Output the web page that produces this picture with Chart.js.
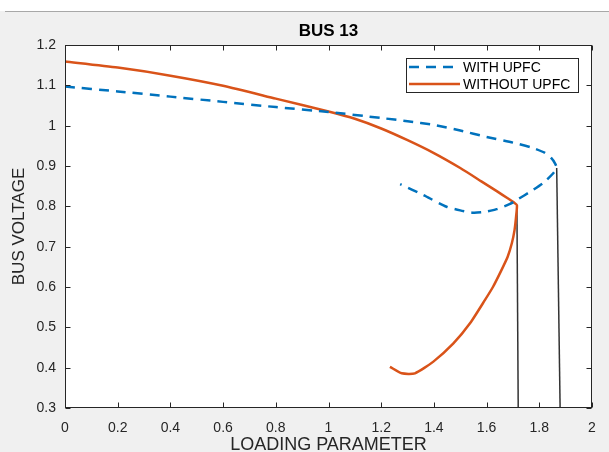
<!DOCTYPE html>
<html>
<head>
<meta charset="utf-8">
<script src="https://cdn.jsdelivr.net/npm/chart.js@4"></script>
<style>
  html, body { margin: 0; padding: 0; background: #f0f0f0; }
</style>
</head>
<body>
<canvas id="busChart" width="609" height="452"></canvas>
<script>
// ---- data ----
const xTicks = [0, 0.2, 0.4, 0.6, 0.8, 1, 1.2, 1.4, 1.6, 1.8, 2];
const xTickLabels = ['0', '0.2', '0.4', '0.6', '0.8', '1', '1.2', '1.4', '1.6', '1.8', '2'];
const yTicks = [0.3, 0.4, 0.5, 0.6, 0.7, 0.8, 0.9, 1, 1.1, 1.2];
const yTickLabels = ['0.3', '0.4', '0.5', '0.6', '0.7', '0.8', '0.9', '1', '1.1', '1.2'];

// WITH UPFC (upper branch out to the nose, then lower branch back)
const withUpfcX = [0, 0.2, 0.4, 0.6, 0.8, 1.0, 1.2, 1.3, 1.4, 1.5, 1.6, 1.7, 1.77, 1.82, 1.845, 1.86, 1.866,
  1.853, 1.815, 1.765, 1.72, 1.689, 1.638, 1.59, 1.55, 1.5, 1.448, 1.36, 1.272];
const withUpfcY = [1.097, 1.085, 1.072, 1.059, 1.046, 1.034, 1.019, 1.011, 1.002, 0.988, 0.972, 0.958, 0.946, 0.933, 0.92, 0.906, 0.895,
  0.882, 0.858, 0.836, 0.818, 0.806, 0.793, 0.786, 0.784, 0.79, 0.799, 0.828, 0.855];

// WITHOUT UPFC
const withoutUpfcX = [0, 0.2, 0.4, 0.6, 0.8, 1.0, 1.1, 1.2, 1.3, 1.4, 1.5, 1.58, 1.64, 1.68, 1.705, 1.715,
  1.712, 1.706, 1.696, 1.68, 1.655, 1.624, 1.594, 1.537, 1.474, 1.398, 1.328, 1.278, 1.233];
const withoutUpfcY = [1.159, 1.144, 1.124, 1.099, 1.067, 1.035, 1.017, 0.993, 0.964, 0.932, 0.895, 0.862, 0.837, 0.82, 0.809, 0.803,
  0.775, 0.741, 0.709, 0.675, 0.64, 0.6, 0.568, 0.51, 0.46, 0.415, 0.386, 0.386, 0.402];

// thin black drop lines from each nose point
const dropWithoutX = [1.715, 1.72];
const dropWithoutY = [0.803, 0.3];
const dropWithX = [1.866, 1.879];
const dropWithY = [0.895, 0.3];

const FONT = "'Liberation Sans', Arial, sans-serif";
const BLUE = '#0072BD';
const ORANGE = '#D95319';

function pts(xs, ys) {
    return xs.map((v, i) => ({ x: v, y: ys[i] }));
}

// figure background, axes box with inside ticks, title and legend (matlab look)
const matlabLook = {
    id: 'matlabLook',
    beforeDraw(chart) {
        const { ctx, chartArea: a, width, height } = chart;
        ctx.save();
        ctx.fillStyle = '#f0f0f0';
        ctx.fillRect(0, 0, width, height);
        ctx.fillStyle = '#ffffff';
        ctx.fillRect(0, 0, width, 11);
        ctx.fillStyle = '#a8a8a8';
        ctx.fillRect(5, 11, width - 5, 1);
        ctx.fillStyle = '#ffffff';
        ctx.fillRect(a.left, a.top, a.right - a.left, a.bottom - a.top);
        ctx.restore();
    },
    afterDraw(chart) {
        const { ctx, chartArea: a, scales } = chart;
        const L = Math.round(a.left) + 0.5, R = Math.round(a.right) - 0.5;
        const T = Math.round(a.top) + 0.5, B = Math.round(a.bottom) - 0.5;
        ctx.save();
        ctx.strokeStyle = '#262626';
        ctx.lineWidth = 1;
        ctx.beginPath();
        scales.x.ticks.forEach(t => {
            const px = Math.round(scales.x.getPixelForValue(t.value)) + 0.5;
            ctx.moveTo(px, B); ctx.lineTo(px, B - 5);
            ctx.moveTo(px, T); ctx.lineTo(px, T + 5);
        });
        scales.y.ticks.forEach(t => {
            const py = Math.round(scales.y.getPixelForValue(t.value)) + 0.5;
            ctx.moveTo(L, py); ctx.lineTo(L + 5, py);
            ctx.moveTo(R, py); ctx.lineTo(R - 5, py);
        });
        ctx.stroke();
        ctx.strokeRect(L, T, R - L, B - T);

        // title
        ctx.fillStyle = '#000';
        ctx.font = 'bold 17px ' + FONT;
        ctx.textAlign = 'center';
        ctx.textBaseline = 'middle';
        ctx.fillText('BUS 13', (a.left + a.right) / 2, 31);

        // legend box
        ctx.fillStyle = '#fff';
        ctx.fillRect(406, 58, 173, 35);
        ctx.strokeStyle = '#262626';
        ctx.strokeRect(406.5, 58.5, 172, 34);
        const rows = [
            { text: 'WITH UPFC', color: BLUE, dash: [10, 7], y: 67 },
            { text: 'WITHOUT UPFC', color: ORANGE, dash: [], y: 84 }
        ];
        rows.forEach(r => {
            ctx.strokeStyle = r.color;
            ctx.lineWidth = 2.5;
            ctx.setLineDash(r.dash);
            ctx.beginPath();
            ctx.moveTo(409, r.y);
            ctx.lineTo(460, r.y);
            ctx.stroke();
            ctx.setLineDash([]);
            ctx.fillStyle = '#000';
            ctx.font = '14px ' + FONT;
            ctx.textAlign = 'left';
            ctx.fillText(r.text, 463, r.y + 1);
        });
        ctx.restore();
    }
};

new Chart(document.getElementById('busChart'), {
    type: 'scatter',
    data: {
        datasets: [
            {
                label: 'WITH UPFC',
                data: pts(withUpfcX, withUpfcY),
                showLine: true,
                borderColor: BLUE,
                borderWidth: 2.5,
                borderDash: [10, 7],
                pointRadius: 0,
                tension: 0.2
            },
            {
                label: 'WITHOUT UPFC',
                data: pts(withoutUpfcX, withoutUpfcY),
                showLine: true,
                borderColor: ORANGE,
                borderWidth: 2.5,
                pointRadius: 0,
                tension: 0.2
            },
            {
                label: 'drop1',
                data: pts(dropWithoutX, dropWithoutY),
                showLine: true,
                borderColor: '#333',
                borderWidth: 1.5,
                pointRadius: 0
            },
            {
                label: 'drop2',
                data: pts(dropWithX, dropWithY),
                showLine: true,
                borderColor: '#333',
                borderWidth: 1.5,
                pointRadius: 0
            }
        ]
    },
    options: {
        responsive: false,
        animation: false,
        devicePixelRatio: 1,
        layout: { padding: { top: 45, right: 17, left: 0, bottom: 0 } },
        plugins: {
            legend: { display: false },
            tooltip: { enabled: false },
            title: { display: false }
        },
        scales: {
            x: {
                type: 'linear',
                min: 0,
                max: 2,
                afterBuildTicks: s => { s.ticks = xTicks.map(v => ({ value: v })); },
                afterFit: s => { s.height = 44; },
                grid: { display: false, drawTicks: false },
                border: { display: false },
                ticks: {
                    color: '#262626',
                    font: { family: FONT, size: 14 },
                    padding: 12,
                    maxRotation: 0,
                    autoSkip: false,
                    callback: (v, i) => xTickLabels[i]
                },
                title: {
                    display: true,
                    text: 'LOADING PARAMETER',
                    color: '#262626',
                    font: { family: FONT, size: 18, lineHeight: 1 },
                    padding: { top: 0, bottom: -2 }
                }
            },
            y: {
                type: 'linear',
                min: 0.3,
                max: 1.2,
                afterBuildTicks: s => { s.ticks = yTicks.map(v => ({ value: v })); },
                afterFit: s => { s.width = 65; },
                grid: { display: false, drawTicks: false },
                border: { display: false },
                ticks: {
                    color: '#262626',
                    font: { family: FONT, size: 14 },
                    padding: 9,
                    autoSkip: false,
                    callback: (v, i) => yTickLabels[i]
                },
                title: {
                    display: true,
                    text: 'BUS VOLTAGE',
                    color: '#262626',
                    font: { family: FONT, size: 17, lineHeight: 1 },
                    padding: { top: 11, bottom: 0 }
                }
            }
        }
    },
    plugins: [matlabLook]
});
</script>
</body>
</html>
